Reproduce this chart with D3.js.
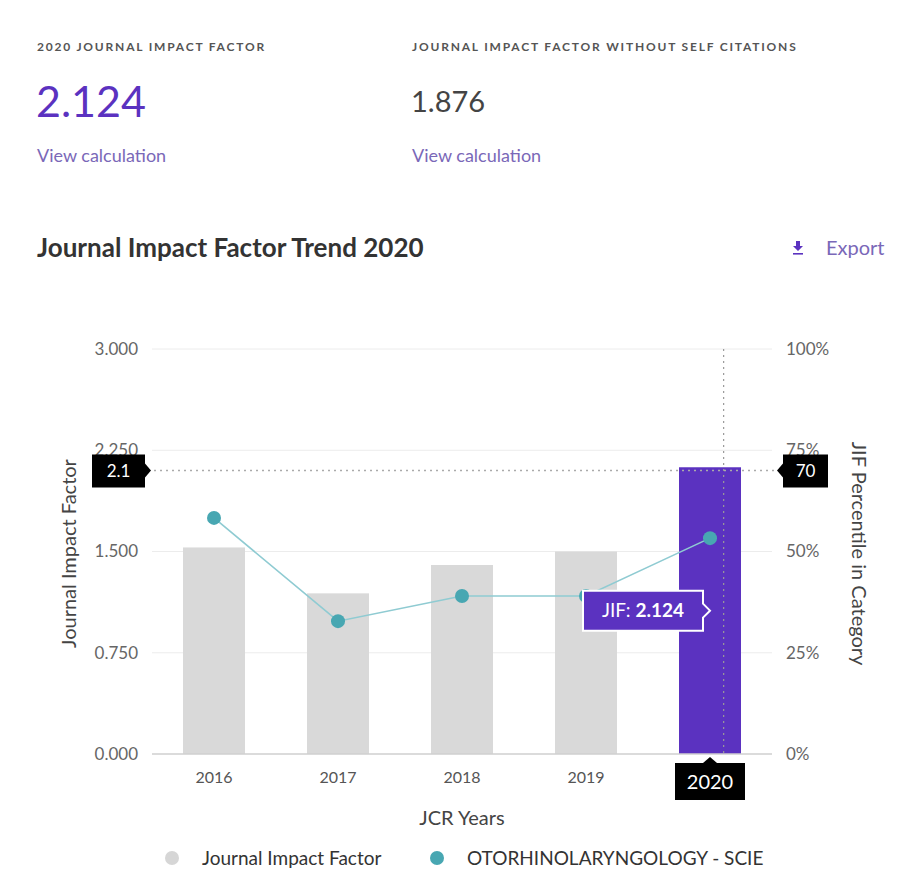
<!DOCTYPE html>
<html>
<head>
<meta charset="utf-8">
<script src="https://cdn.jsdelivr.net/npm/d3@7.9.0/dist/d3.min.js"></script>
<style>
  body { margin: 0; background: #fff; }
  svg { display: block; font-family: Lato, sans-serif; }
</style>
</head>
<body>
<svg id="chart" width="916" height="896"></svg>
<script>
// data
const years = ['2016', '2017', '2018', '2019', '2020'];
const jifValues = [1.53, 1.19, 1.40, 1.50, 2.124];
const percentiles = [58.3, 32.8, 39.0, 39.0, 53.3];
const jifTicks = [0, 0.75, 1.5, 2.25, 3];
const pctTicks = [0, 25, 50, 75, 100];
const headlineJif = '2.124';
const headlineNoSelf = '1.876';
const hoverJif = 2.1;

const purple = '#5b32c0';
const teal = '#48a7b2';
const font = 'Lato, sans-serif';

let svg = d3.select('#chart');

// Header block
svg.append('text').attr('x', 37).attr('y', 51)
  .attr('font-size', 12).attr('font-weight', 700).attr('letter-spacing', 1.8)
  .attr('fill', '#555').text('2020 JOURNAL IMPACT FACTOR');
svg.append('text').attr('x', 412).attr('y', 51)
  .attr('font-size', 12).attr('font-weight', 700).attr('letter-spacing', 1.8)
  .attr('fill', '#555').text('JOURNAL IMPACT FACTOR WITHOUT SELF CITATIONS');
svg.append('text').attr('x', 36).attr('y', 117)
  .attr('font-size', 43).attr('fill', purple).text(headlineJif);
svg.append('text').attr('x', 411).attr('y', 112)
  .attr('font-size', 29).attr('fill', '#444').text(headlineNoSelf);
[37, 412].forEach((xx) => {
  svg.append('text').attr('x', xx).attr('y', 162)
    .attr('font-size', 18).attr('fill', '#7a68b8').text('View calculation');
});

// Title + export
svg.append('text').attr('x', 37).attr('y', 257)
  .attr('font-size', 26).attr('font-weight', 700).attr('fill', '#333')
  .text('Journal Impact Factor Trend 2020');
svg.append('text').attr('x', 826).attr('y', 255)
  .attr('font-size', 20).attr('fill', '#7a68b8').text('Export');
let icon = svg.append('g').attr('transform', 'translate(798,248)').attr('fill', purple);
icon.append('path').attr('d', 'M-2,-7 h4 v5 h3 l-5,5 l-5,-5 h3 z');
icon.append('rect').attr('x', -5).attr('y', 5).attr('width', 10).attr('height', 1.6);

// Scales
const plotLeft = 152, plotRight = 772, plotTop = 349, plotBottom = 754;
let x = d3.scaleBand().domain(years).range([plotLeft, plotRight])
  .paddingInner(0.5).paddingOuter(0.25);
let yJif = d3.scaleLinear().domain([0, 3]).range([plotBottom, plotTop]);
let yPct = d3.scaleLinear().domain([0, 100]).range([plotBottom, plotTop]);
const lastYear = years[years.length - 1];

// Gridlines
svg.append('g').selectAll('line').data(jifTicks.slice(1)).join('line')
  .attr('x1', plotLeft).attr('x2', plotRight)
  .attr('y1', (d) => yJif(d)).attr('y2', (d) => yJif(d))
  .attr('stroke', '#ececec').attr('stroke-width', 1);

// Left axis
let leftAxis = svg.append('g').attr('transform', `translate(${plotLeft},0)`)
  .call(d3.axisLeft(yJif).tickValues(jifTicks).tickFormat(d3.format('.3f')).tickSize(0).tickPadding(14));
leftAxis.select('.domain').remove();
leftAxis.selectAll('text').attr('font-size', 17).attr('fill', '#666').attr('font-family', font);

// Right axis
let rightAxis = svg.append('g').attr('transform', `translate(${plotRight},0)`)
  .call(d3.axisRight(yPct).tickValues(pctTicks).tickFormat((d) => d + '%').tickSize(0).tickPadding(14));
rightAxis.select('.domain').remove();
rightAxis.selectAll('text').attr('font-size', 17).attr('fill', '#666').attr('font-family', font);

// Bars
svg.append('g').selectAll('rect').data(years).join('rect')
  .attr('x', (d) => x(d))
  .attr('width', x.bandwidth())
  .attr('y', (d, i) => yJif(jifValues[i]))
  .attr('height', (d, i) => yJif(0) - yJif(jifValues[i]))
  .attr('fill', (d, i) => (i === years.length - 1 ? purple : '#d9d9d9'));

// Baseline
svg.append('line').attr('x1', plotLeft).attr('x2', plotRight)
  .attr('y1', plotBottom).attr('y2', plotBottom).attr('stroke', '#cfcfcf').attr('stroke-width', 1.5);

// Bottom axis (hovered year is shown in its own label box)
let bottomAxis = svg.append('g').attr('transform', `translate(0,${plotBottom})`)
  .call(d3.axisBottom(x).tickSize(0).tickPadding(18)
    .tickFormat((d) => (d === lastYear ? '' : d)));
bottomAxis.select('.domain').remove();
bottomAxis.selectAll('text').attr('font-size', 16).attr('fill', '#555').attr('font-family', font);

// Percentile line + dots
let cx = (d) => x(d) + x.bandwidth() / 2;
let line = d3.line().x((d) => cx(d)).y((d, i) => yPct(percentiles[i]));
svg.append('path').datum(years).attr('d', line)
  .attr('fill', 'none').attr('stroke', '#8fcbd2').attr('stroke-width', 1.6);
svg.append('g').selectAll('circle').data(years).join('circle')
  .attr('cx', cx).attr('cy', (d, i) => yPct(percentiles[i]))
  .attr('r', 7).attr('fill', teal);

// Axis titles
svg.append('text').attr('transform', `translate(76,${(plotTop + plotBottom) / 2 + 2}) rotate(-90)`)
  .attr('text-anchor', 'middle').attr('font-size', 20).attr('fill', '#444')
  .text('Journal Impact Factor');
svg.append('text').attr('transform', `translate(852,${(plotTop + plotBottom) / 2 + 2}) rotate(90)`)
  .attr('text-anchor', 'middle').attr('font-size', 20).attr('fill', '#444')
  .text('JIF Percentile in Category');
svg.append('text').attr('x', (plotLeft + plotRight) / 2).attr('y', 825)
  .attr('text-anchor', 'middle').attr('font-size', 20).attr('fill', '#444')
  .text('JCR Years');

// Crosshair
let hoverX = x(lastYear) + x.bandwidth() * 0.72;
let hoverY = yJif(hoverJif);
svg.append('line').attr('x1', hoverX).attr('x2', hoverX)
  .attr('y1', plotTop).attr('y2', plotBottom)
  .attr('stroke', '#999').attr('stroke-dasharray', '2,4').attr('stroke-width', 1.2);
svg.append('line').attr('x1', plotLeft - 4).attr('x2', plotRight + 4)
  .attr('y1', hoverY).attr('y2', hoverY)
  .attr('stroke', '#aaa').attr('stroke-dasharray', '2,4').attr('stroke-width', 1.5);

// Left crosshair label
let lbl = svg.append('g').attr('transform', `translate(${plotLeft - 7},${hoverY})`);
lbl.append('path').attr('d', 'M0,-7 L6,0 L0,7 Z').attr('fill', '#000');
lbl.append('rect').attr('x', -53).attr('y', -16).attr('width', 53).attr('height', 33).attr('fill', '#000');
lbl.append('text').attr('x', -26.5).attr('y', 6).attr('text-anchor', 'middle')
  .attr('font-size', 17).attr('fill', '#fff').text(hoverJif.toFixed(1));

// Right crosshair label
let lblR = svg.append('g').attr('transform', `translate(${plotRight + 11},${hoverY})`);
lblR.append('path').attr('d', 'M0,-7 L-6,0 L0,7 Z').attr('fill', '#000');
lblR.append('rect').attr('x', 0).attr('y', -16).attr('width', 45).attr('height', 33).attr('fill', '#000');
lblR.append('text').attr('x', 22.5).attr('y', 6).attr('text-anchor', 'middle')
  .attr('font-size', 17).attr('fill', '#fff').text(Math.round(yPct.invert(hoverY)));

// Bottom year label
let lblB = svg.append('g').attr('transform', `translate(${cx(lastYear)},${plotBottom + 9})`);
lblB.append('path').attr('d', 'M-7,0 L0,-6 L7,0 Z').attr('fill', '#000');
lblB.append('rect').attr('x', -35).attr('y', 0).attr('width', 70).attr('height', 37).attr('fill', '#000');
lblB.append('text').attr('x', 0).attr('y', 25.5).attr('text-anchor', 'middle')
  .attr('font-size', 20).attr('fill', '#fff').text(lastYear);

// JIF tooltip
let tipY = yJif(jifValues[jifValues.length - 1] / 2);
let tip = svg.append('g').attr('transform', `translate(${cx(lastYear)},${tipY})`);
tip.append('path')
  .attr('d', 'M-127,-20 H-7 V-7 L0,0 L-7,7 V20 H-127 Z')
  .attr('fill', purple).attr('stroke', '#fff').attr('stroke-width', 2);
let tipText = tip.append('text').attr('x', -67).attr('y', 6.5).attr('text-anchor', 'middle')
  .attr('font-size', 19).attr('fill', '#fff');
tipText.append('tspan').text('JIF: ');
tipText.append('tspan').attr('font-weight', 700).text(jifValues[jifValues.length - 1].toFixed(3));

// Legend
const legendItems = [
  { label: 'Journal Impact Factor', color: '#d6d6d6', x: 172 },
  { label: 'OTORHINOLARYNGOLOGY - SCIE', color: teal, x: 437 },
];
let legend = svg.append('g').selectAll('g').data(legendItems).join('g')
  .attr('transform', (d) => `translate(${d.x},858)`);
legend.append('circle').attr('r', 7).attr('fill', (d) => d.color);
legend.append('text').attr('x', 30).attr('y', 7).attr('font-size', 19).attr('fill', '#333')
  .text((d) => d.label);
</script>
</body>
</html>
